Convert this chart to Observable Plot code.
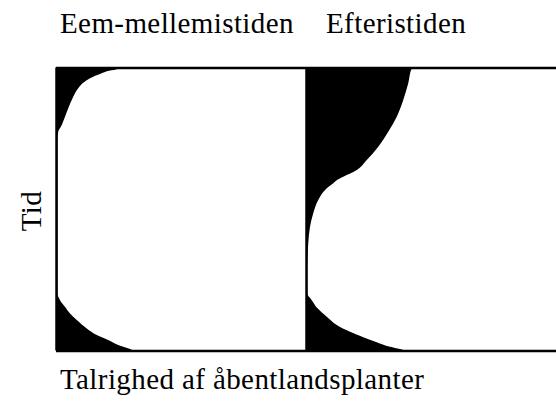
<!DOCTYPE html>
<html>
<head>
<meta charset="utf-8">
<script src="https://cdn.jsdelivr.net/npm/d3@7"></script>
<script src="https://cdn.jsdelivr.net/npm/@observablehq/plot@0.6"></script>
<style>
  html, body { margin: 0; padding: 0; background: #fff; }
  #wrap { position: relative; width: 556px; height: 412px; overflow: hidden; color: #000; }
  .lbl { position: absolute; font-family: 'Liberation Serif', 'Times New Roman', serif; font-size: 29px; line-height: 29px; letter-spacing: 0.4px; white-space: nowrap; }
  #ylab { left: 31px; top: 211px; transform: translate(-50%, -50%) rotate(-90deg); }
  #chart { position: absolute; left: 0; top: 50px; }
</style>
</head>
<body>
<div id="wrap">
  <div class="lbl" id="t0" style="left:60px; top:8.5px;"></div>
  <div class="lbl" id="t1" style="left:326px; top:8.5px;"></div>
  <div id="chart"></div>
  <div class="lbl" id="ylab"></div>
  <div class="lbl" id="cap" style="left:60px; top:365px;"></div>
</div>
<script>
// Panels (periods)
const periods = ["Eem-mellemistiden", "Efteristiden"];
const xLabel = "Talrighed af åbentlandsplanter";
const yLabel = "Tid";

// Eem-mellemistiden: time (0 = bottom, 100 = top) and abundance (% of panel width)
const eemTime  = [0, 0.5, 1.9, 3.7, 5.5, 7.8, 10.8, 13.1, 15.5, 17.8, 20.2, 21.4, 35, 50, 65, 74.4, 77.3, 79.7, 82.6, 85.6, 89.7, 92.7, 94.6, 96.2, 97.7, 98.9, 99.4, 100];
const eemAbund = [31, 29.6, 24.9, 20.9, 16.3, 12.3, 8.3, 5.6, 3.6, 1.6, 0.6, 0.6, 0.6, 0.6, 0.6, 0.6, 0.9, 2.3, 3.6, 4.9, 6.9, 8.9, 10.9, 13.6, 17.6, 21.6, 24.3, 24.8];

// Efteristiden
const efterTime  = [0, 0.5, 1.3, 2.9, 4.7, 6.6, 9.0, 11.9, 14.9, 17.8, 20.2, 28.4, 37.9, 43.7, 48.5, 53.2, 57.3, 59.1, 60.2, 61.4, 63.8, 67.3, 72.0, 77.3, 82.6, 88.5, 94.4, 99.7, 100];
const efterAbund = [39.6, 37.6, 33.6, 28.3, 22.9, 17.6, 12.3, 8.3, 4.6, 2.3, 0.5, 0.5, 0.9, 1.6, 2.9, 4.9, 8.3, 10.9, 12.3, 14.9, 20.3, 24.3, 28.9, 32.9, 36.3, 38.9, 40.9, 42.3, 42.6];

const rows = [
  ...eemTime.map((t, i) => ({period: periods[0], t, v: eemAbund[i]})),
  ...efterTime.map((t, i) => ({period: periods[1], t, v: efterAbund[i]}))
];

document.getElementById("t0").textContent = periods[0];
document.getElementById("t1").textContent = periods[1];
document.getElementById("ylab").textContent = yLabel;
document.getElementById("cap").textContent = xLabel;

const chart = Plot.plot({
  width: 556,
  height: 320,
  marginLeft: 56,
  marginRight: 0,
  marginTop: 17.5,
  marginBottom: 19.5,
  style: {background: "white"},
  x: {domain: [0, 100], axis: null},
  y: {domain: [0, 100], axis: null},
  fx: {domain: periods, padding: 0, axis: null},
  marks: [
    Plot.areaX(rows, {fx: "period", y: "t", x: "v", fill: "black", curve: "monotone-y"}),
    Plot.ruleY([0, 100], {stroke: "black", strokeWidth: 2.5}),
    Plot.ruleX([0], {stroke: "black", strokeWidth: 2.5})
  ]
});
document.getElementById("chart").appendChild(chart);
</script>
</body>
</html>
